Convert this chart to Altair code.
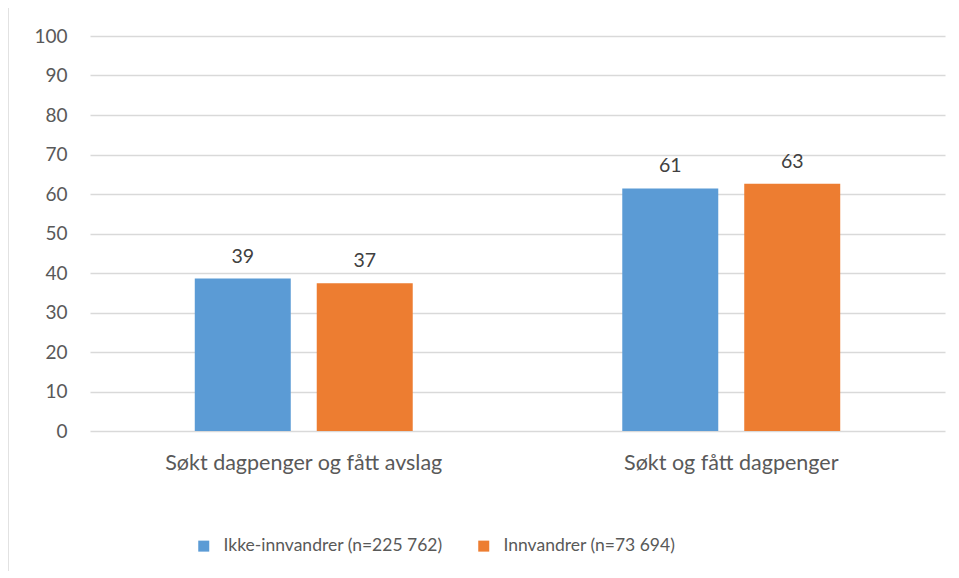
import altair as alt
import pandas as pd

categories = ["Søkt dagpenger og fått avslag", "Søkt og fått dagpenger"]
series = ["Ikke-innvandrer (n=225 762)", "Innvandrer (n=73 694)"]
ikke = [38.6, 61.4]
innv = [37.4, 62.6]
colors = ["#5B9BD5", "#ED7D31"]
y_ticks = list(range(0, 101, 10))

rows = []
for i, c in enumerate(categories):
    rows.append({"kategori": c, "gruppe": series[0], "verdi": ikke[i]})
    rows.append({"kategori": c, "gruppe": series[1], "verdi": innv[i]})
df = pd.DataFrame(rows)

FONT = "Lato"

x = alt.X("kategori:N", sort=categories, title=None,
          scale=alt.Scale(paddingInner=0, paddingOuter=0),
          axis=alt.Axis(labelAngle=0, domain=False, ticks=False, grid=False, labelPadding=21,
                        labelFontSize=21.5, labelColor="#595959", labelFont=FONT,
                        labelLimit=0))
xo = alt.XOffset("gruppe:N", sort=series,
                 scale=alt.Scale(paddingInner=0.213, paddingOuter=0.859))
y = alt.Y("verdi:Q", title=None,
          scale=alt.Scale(domain=[0, 100], nice=False),
          axis=alt.Axis(values=y_ticks, tickCount=11, domain=False, ticks=False, labelPadding=23,
                        labelFontSize=19, labelColor="#595959", labelFont=FONT,
                        labelOverlap=False, labelBound=False,
                        gridColor="#D9D9D9", gridWidth=1.5))

base = alt.Chart(df).encode(x=x, xOffset=xo, y=y)

bars = base.mark_bar().encode(
    color=alt.Color("gruppe:N", sort=series,
                    scale=alt.Scale(domain=series, range=colors),
                    legend=alt.Legend(title=None, orient="none", direction="horizontal",
                                      legendX=105, legendY=501,
                                      symbolType="square", symbolSize=121,
                                      symbolStrokeWidth=0, labelLimit=0,
                                      labelFontSize=17.5, labelColor="#595959",
                                      labelFont=FONT, columnPadding=32,
                                      labelOffset=11)),
)

labels = base.mark_text(baseline="alphabetic", dy=-16, fontSize=19.5, color="#404040",
                        font=FONT).encode(
    text=alt.Text("verdi:Q", format=".0f"),
)

border_left = alt.Chart(pd.DataFrame({"a": [0]})).mark_rule(color="#D9D9D9", strokeWidth=1.5).encode(
    x=alt.value(-82), y=alt.value(-29), y2=alt.value(560))
border_top = alt.Chart(pd.DataFrame({"a": [0]})).mark_rule(color="#D9D9D9", strokeWidth=1.5).encode(
    x=alt.value(-82), x2=alt.value(870), y=alt.value(-29))

chart = alt.layer(bars, labels, border_left, border_top).properties(
    width=855, height=395,
    autosize=alt.AutoSizeParams(type="none"),
    padding={"left": 82, "top": 28, "right": 6, "bottom": 140},
).configure(font=FONT).configure_view(strokeWidth=0, stroke="transparent")

chart.save("out.html", embed_options={"renderer": "svg", "actions": False})
